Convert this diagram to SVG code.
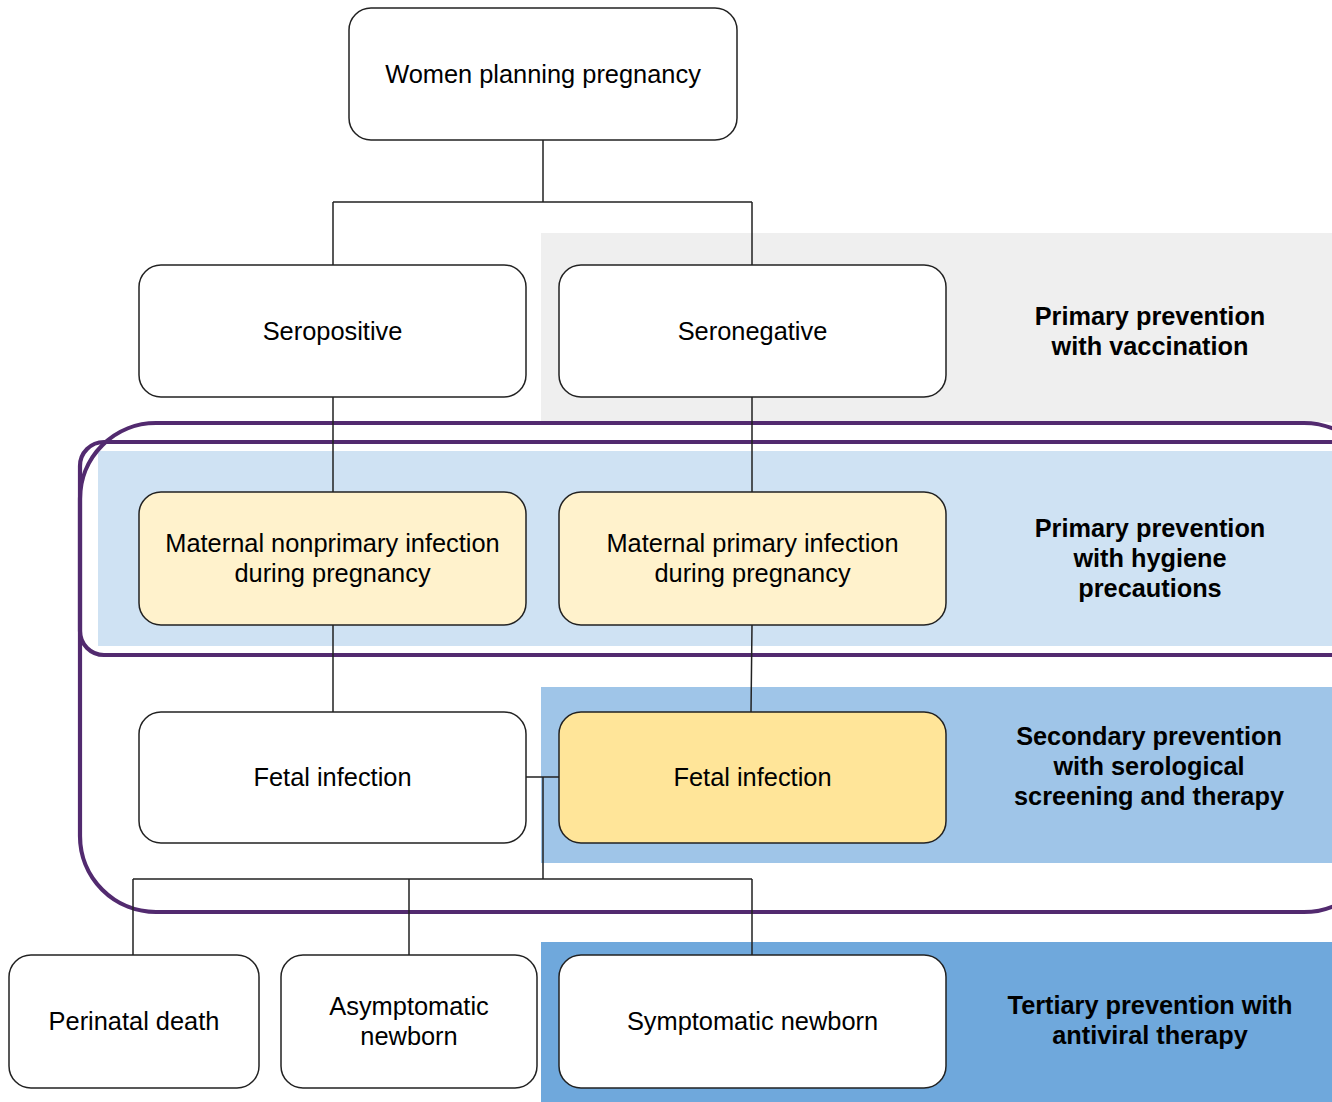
<svg xmlns="http://www.w3.org/2000/svg" width="1332" height="1102" viewBox="0 0 1332 1102">
<style>
.node{stroke:#222;stroke-width:1.5}
.w{fill:#ffffff}
.y1{fill:#fff2cc}
.y2{fill:#ffe599}
.t{font-family:"Liberation Sans",Arial,sans-serif;font-size:25.4px;fill:#000;text-anchor:middle}
.b{font-family:"Liberation Sans",Arial,sans-serif;font-size:25.3px;font-weight:bold;fill:#000;text-anchor:middle}
.c{stroke:#222;stroke-width:1.5;fill:none}
.p{stroke:#522a6f;stroke-width:4.2;fill:none}
</style>
<rect width="1332" height="1102" fill="#ffffff"/>
<g id="bands">
<rect x="541" y="233" width="791" height="189" fill="#efefef"/>
<rect x="98" y="451" width="1234" height="195" fill="#cfe2f3"/>
<rect x="541" y="687" width="791" height="176" fill="#9fc5e8"/>
<rect x="541" y="942" width="791" height="160" fill="#6fa8dc"/>
</g>
<g id="outlines">
<rect class="p" x="80" y="423" width="1300" height="489" rx="76" ry="76"/>
<rect class="p" x="80" y="442" width="1300" height="213" rx="24" ry="24"/>
</g>
<g id="connectors">
<path class="c" d="M543 140V202M333 202H752M333 202V265M752 202V265"/>
<path class="c" d="M333 397V492M752 397V492"/>
<path class="c" d="M333 625V712M752 625L751 712"/>
<path class="c" d="M526 777H559M543 777V879M133 879H752M133 879V955M409 879V955M752 879V955"/>
</g>
<g id="n-women"><rect class="node w" x="349" y="8" width="388" height="132" rx="22"/><text class="t" x="543" y="83">Women planning pregnancy</text></g>
<g id="n-seropos"><rect class="node w" x="139" y="265" width="387" height="132" rx="22"/><text class="t" x="332.5" y="340">Seropositive</text></g>
<g id="n-seroneg"><rect class="node w" x="559" y="265" width="387" height="132" rx="22"/><text class="t" x="752.5" y="340">Seronegative</text></g>
<g id="n-nonprimary"><rect class="node y1" x="139" y="492" width="387" height="133" rx="22"/><text class="t" x="332.5" y="552">Maternal nonprimary infection</text><text class="t" x="332.5" y="582">during pregnancy</text></g>
<g id="n-primary"><rect class="node y1" x="559" y="492" width="387" height="133" rx="22"/><text class="t" x="752.5" y="552">Maternal primary infection</text><text class="t" x="752.5" y="582">during pregnancy</text></g>
<g id="n-fetal1"><rect class="node w" x="139" y="712" width="387" height="131" rx="22"/><text class="t" x="332.5" y="786">Fetal infection</text></g>
<g id="n-fetal2"><rect class="node y2" x="559" y="712" width="387" height="131" rx="22"/><text class="t" x="752.5" y="786">Fetal infection</text></g>
<g id="n-death"><rect class="node w" x="9" y="955" width="250" height="133" rx="22"/><text class="t" x="134" y="1030">Perinatal death</text></g>
<g id="n-asym"><rect class="node w" x="281" y="955" width="256" height="133" rx="22"/><text class="t" x="409" y="1015">Asymptomatic</text><text class="t" x="409" y="1045">newborn</text></g>
<g id="n-sym"><rect class="node w" x="559" y="955" width="387" height="133" rx="22"/><text class="t" x="752.5" y="1030">Symptomatic newborn</text></g>
<g id="labels">
<text class="b" x="1150" y="325">Primary prevention</text>
<text class="b" x="1150" y="355">with vaccination</text>
<text class="b" x="1150" y="537">Primary prevention</text>
<text class="b" x="1150" y="567">with hygiene</text>
<text class="b" x="1150" y="597">precautions</text>
<text class="b" x="1149" y="745">Secondary prevention</text>
<text class="b" x="1149" y="775">with serological</text>
<text class="b" x="1149" y="805">screening and therapy</text>
<text class="b" x="1150" y="1014">Tertiary prevention with</text>
<text class="b" x="1150" y="1044">antiviral therapy</text>
</g>
</svg>
